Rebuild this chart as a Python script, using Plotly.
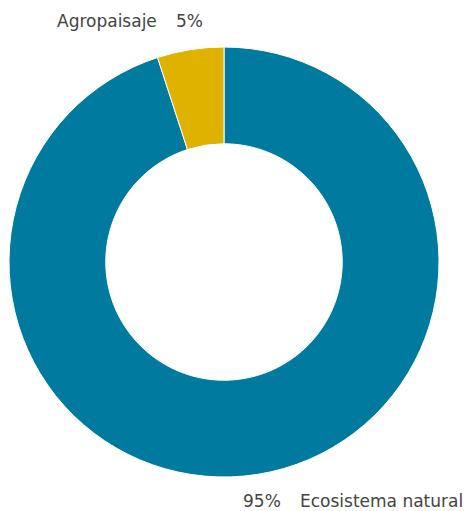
import plotly.graph_objects as go

labels = ["Ecosistema natural", "Agropaisaje"]
values = [95, 5]
colors = ["#007A9E", "#DFB200"]

W, H = 467, 511

fig = go.Figure(go.Pie(
    labels=labels,
    values=values,
    hole=0.55,
    sort=False,
    direction="clockwise",
    rotation=0,
    textinfo="none",
    hoverinfo="label+percent",
    marker=dict(colors=colors, line=dict(color="white", width=1)),
    domain=dict(x=[9 / W, 439 / W], y=[(H - 477) / H, (H - 47) / H]),
    showlegend=False,
))

font = dict(family="DejaVu Sans, sans-serif", size=17, color="#444444")
pct = [f"{v}%" for v in values]
ann = [
    dict(text=labels[1], x=158 / W, y=(H - 21) / H, xanchor="right"),
    dict(text=pct[1], x=175 / W, y=(H - 21) / H, xanchor="left"),
    dict(text=pct[0], x=282 / W, y=(H - 500.5) / H, xanchor="right"),
    dict(text=labels[0], x=299 / W, y=(H - 500.5) / H, xanchor="left"),
]
for a in ann:
    a.update(xref="paper", yref="paper", yanchor="middle", showarrow=False,
             borderpad=0, font=font)

fig.update_layout(
    width=W, height=H,
    margin=dict(l=0, r=0, t=0, b=0),
    paper_bgcolor="white", plot_bgcolor="white",
    annotations=ann,
)

fig.write_html("out.html", config={"displayModeBar": False},
               post_script="document.body.style.margin='0';document.body.style.overflow='hidden';")
